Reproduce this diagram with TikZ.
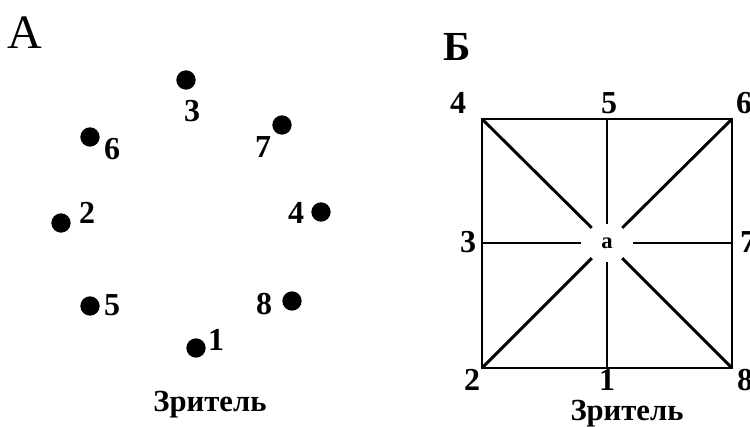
\documentclass[tikz,border=0pt]{standalone}
\usepackage{fontspec}
\setmainfont{Liberation Serif}
\usetikzlibrary{shapes.geometric}
\begin{document}
\begin{tikzpicture}[x=0.75pt,y=-0.75pt,
  dot/.style={circle,fill=black,inner sep=0pt,minimum size=14.5pt},
  num/.style={font=\bfseries\fontsize{24}{26}\selectfont,inner sep=0pt},
  viewer/.style={font=\bfseries\fontsize{23}{25}\selectfont,inner sep=0pt},
  sqline/.style={line width=2.2pt}]
\useasboundingbox (0,0) rectangle (750,427);
\clip (0,0) rectangle (750,427);
% Panel A
\node[font=\fontsize{36}{38}\selectfont,inner sep=0pt] (A) at (25,33) {А};
\node[dot] (d3) at (186,80) {};  \node[num] (l3) at (192,111) {3};
\node[dot] (d7) at (282,125) {}; \node[num] (l7) at (263,147) {7};
\node[dot] (d6) at (90,137) {};  \node[num] (l6) at (112,149) {6};
\node[dot] (d2) at (61,223) {};  \node[num] (l2) at (87,213) {2};
\node[dot] (d4) at (321,212) {}; \node[num] (l4) at (296,213) {4};
\node[dot] (d5) at (90,306) {};  \node[num] (l5) at (112,305) {5};
\node[dot] (d8) at (292,301) {}; \node[num] (l8) at (264,304) {8};
\node[dot] (d1) at (196,348) {}; \node[num] (l1) at (216,340) {1};
\node[viewer] (zA) at (210,405) {Зритель};
% Panel B
\node[font=\bfseries\fontsize{31}{33}\selectfont,inner sep=0pt] (B) at (457,47) {Б};
\coordinate (c4) at (482,119);
\coordinate (c5) at (607,119);
\coordinate (c6) at (732,119);
\coordinate (c3) at (482,243);
\coordinate (c7) at (732,243);
\coordinate (c2) at (482,368);
\coordinate (c1) at (607,368);
\coordinate (c8) at (732,368);
\node[ellipse,inner sep=0pt,minimum width=38pt,minimum height=28pt,
      font=\bfseries\fontsize{17}{18}\selectfont] (a) at (607,243) {а};
\draw[sqline] (c4) rectangle (c8);
\foreach \c in {c1,c2,c3,c4,c5,c6,c7,c8} \draw[sqline] (\c) -- (a);
\node[num] (m4) at (458,103) {4};
\node[num] (m5) at (609,103) {5};
\node[num] (m6) at (744,103) {6};
\node[num] (m3) at (468,242) {3};
\node[num] (m7) at (748,242) {7};
\node[num] (m2) at (472,380) {2};
\node[num] (m1) at (607,380) {1};
\node[num] (m8) at (745,380) {8};
\node[viewer] (zB) at (627,414) {Зритель};
\end{tikzpicture}
\end{document}
